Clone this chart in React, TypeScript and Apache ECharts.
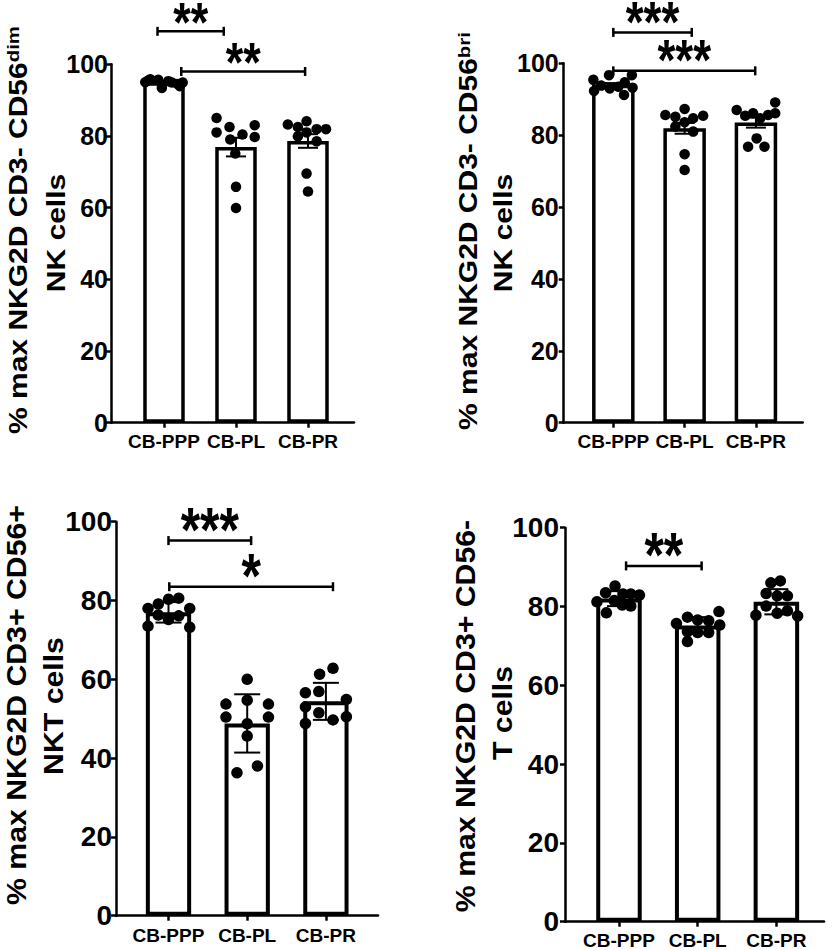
import React, { useEffect, useRef } from 'react';
import * as echarts from 'echarts';

const FONT = '"Liberation Sans", Arial, Helvetica, sans-serif';

// ---------- data ----------
const categories = ['CB-PPP', 'CB-PL', 'CB-PR'];
const categoryIndex = [0, 1, 2];
const yMin = 0;
const yMax = 100;
const yStep = 20;

// Panel A: CD3- CD56dim NK cells (mean ± SEM)
const aMeans = [95.0, 76.9, 78.6];
const aErr = [0.3, 2.6, 1.9];
const aPPP = [95.0, 95.5, 95.8, 95.7, 93.4, 95.3, 94.9, 94.5, 93.9, 94.9];
const aPL = [85.0, 82.5, 83.0, 81.0, 80.4, 79.7, 79.0, 75.1, 65.8, 59.9];
const aPR = [83.2, 82.5, 84.1, 81.9, 81.9, 79.9, 81.0, 78.5, 69.5, 64.5];
const aJitPPP = [-0.26, -0.22, -0.19, -0.08, -0.03, 0.06, 0.11, 0.19, 0.22, 0.26];
const aJitPL = [-0.27, -0.09, 0.26, -0.27, 0.09, 0.26, -0.08, -0.01, 0.0, 0.0];
const aJitPR = [-0.28, -0.14, -0.02, 0.12, 0.25, -0.14, -0.02, 0.12, -0.02, 0.0];
const aBrackets = [
  { x1: -0.09, x2: 0.83, y: 109.2, label: '**' },
  { x1: 0.24, x2: 1.96, y: 98.0, label: '**' },
];

// Panel B: CD3- CD56bri NK cells (mean ± SEM)
const bMeans = [94.0, 81.9, 83.5];
const bErr = [0.5, 1.5, 1.4];
const bPPP = [95.4, 96.7, 96.7, 93.8, 93.0, 93.5, 94.7, 93.2, 92.3, 91.2];
const bPL = [85.6, 85.1, 87.3, 84.7, 85.4, 83.6, 82.4, 81.0, 74.7, 70.3];
const bPR = [87.0, 85.4, 86.1, 84.7, 85.6, 89.1, 86.1, 79.1, 76.8, 76.8];
const bJitPPP = [-0.28, -0.06, 0.26, -0.17, -0.05, 0.07, 0.16, 0.27, -0.27, 0.15];
const bJitPL = [-0.27, -0.13, 0.0, 0.12, 0.26, 0.0, -0.13, 0.12, 0.0, 0.0];
const bJitPR = [-0.27, -0.15, -0.04, 0.06, 0.17, 0.27, 0.27, 0.01, -0.11, 0.12];
const bBrackets = [
  { x1: 0.0, x2: 1.1, y: 108.6, label: '***' },
  { x1: 0.0, x2: 1.99, y: 97.9, label: '***' },
];

// Panel C: CD3+ CD56+ NKT cells (mean ± SD)
const cMeans = [77.0, 48.8, 54.4];
const cErr = [2.6, 7.4, 4.7];
const cPPP = [78.0, 79.1, 80.3, 80.6, 78.0, 76.3, 75.2, 76.1, 73.5, 73.2];
const cPL = [60.0, 53.7, 54.7, 53.7, 50.4, 50.4, 48.7, 45.6, 36.3, 38.0];
const cPR = [62.8, 61.3, 56.6, 56.9, 54.9, 53.0, 51.5, 49.7, 50.5, 48.8];
const cJitPPP = [-0.26, -0.13, 0.0, 0.13, 0.27, -0.13, 0.0, 0.13, -0.26, 0.27];
const cJitPL = [0.0, -0.27, 0.0, 0.27, -0.27, 0.27, 0.0, 0.0, -0.13, 0.13];
const cJitPR = [0.09, -0.08, -0.26, -0.09, 0.26, -0.26, -0.09, 0.09, 0.26, -0.26];
const cBrackets = [
  { x1: 0.0, x2: 1.05, y: 95.2, label: '***' },
  { x1: 0.01, x2: 2.09, y: 83.5, label: '*' },
];

// Panel D: CD3+ CD56- T cells (mean ± SD)
const dMeans = [82.0, 75.2, 81.2];
const dErr = [1.9, 2.1, 3.2];
const dPPP = [83.5, 85.2, 83.2, 83.2, 82.9, 81.2, 81.5, 80.4, 80.1, 78.4];
const dPL = [75.7, 77.3, 76.6, 76.4, 78.7, 75.3, 73.6, 73.4, 73.4, 71.1];
const dPR = [86.0, 86.5, 83.3, 82.7, 82.7, 77.8, 80.1, 78.3, 78.9, 77.6];
const dJitPPP = [-0.17, -0.05, 0.05, 0.15, 0.26, -0.28, -0.06, 0.04, 0.15, -0.16];
const dJitPL = [-0.27, -0.13, 0.0, 0.14, 0.27, 0.28, -0.13, 0.0, 0.14, -0.13];
const dJitPR = [-0.07, 0.05, -0.13, 0.01, 0.14, -0.26, -0.13, 0.01, 0.14, 0.27];
const dBrackets = [{ x1: 0.09, x2: 1.05, y: 90.3, label: '**' }];

// ---------- layout ----------
type PanelCfg = {
  means: number[];
  err: number[];
  groups: number[][];
  jitters: number[][];
  brackets: { x1: number; x2: number; y: number; label: string }[];
  grid: { left: number; top: number; width: number; height: number };
  xMin: number;
  xMax: number;
  barWidth: number;
  border: number;
  dot: number;
  cap: number;
  tickFont: number;
  tickMargin: number;
  starFont: number;
  starShift: number;
  labelMargin: number;
  title1: string;
  title2: string;
  titleFont: number;
  titleScale: number;
  t1x: number;
  t1y: number;
  t2x: number;
  t2y: number;
};

const panels: PanelCfg[] = [
  {
    means: aMeans, err: aErr, groups: [aPPP, aPL, aPR], jitters: [aJitPPP, aJitPL, aJitPR], brackets: aBrackets,
    grid: { left: 111, top: 64.3, width: 243, height: 358.4 }, xMin: -0.736, xMax: 2.639,
    barWidth: 41.5, border: 3.5, dot: 10.5, cap: 20, tickFont: 25, tickMargin: 3, starFont: 45, starShift: 10, labelMargin: 9,
    title1: '{m|% max NKG2D CD3- CD56}{s|dim}', title2: 'NK cells', titleFont: 25, titleScale: 1.2,
    t1x: 18, t1y: 230, t2x: 56, t2y: 233,
  },
  {
    means: bMeans, err: bErr, groups: [bPPP, bPL, bPR], jitters: [bJitPPP, bJitPL, bJitPR], brackets: bBrackets,
    grid: { left: 563.7, top: 63.3, width: 239, height: 359.4 }, xMin: -0.696, xMax: 2.656,
    barWidth: 42.5, border: 3.5, dot: 10.5, cap: 20, tickFont: 25, tickMargin: 5, starFont: 46, starShift: 10.3, labelMargin: 9,
    title1: '{m|% max NKG2D CD3- CD56}{s|bri}', title2: 'NK cells', titleFont: 25, titleScale: 1.2,
    t1x: 468.8, t1y: 231, t2x: 503.8, t2y: 233,
  },
  {
    means: cMeans, err: cErr, groups: [cPPP, cPL, cPR], jitters: [cJitPPP, cJitPL, cJitPR], brackets: cBrackets,
    grid: { left: 116, top: 521.7, width: 262, height: 394 }, xMin: -0.667, xMax: 2.662,
    barWidth: 45.3, border: 4, dot: 11.5, cap: 26, tickFont: 28, tickMargin: 4, starFont: 50, starShift: 11.5, labelMargin: 10,
    title1: '{m|% max NKG2D CD3+ CD56+}', title2: 'NKT cells', titleFont: 27, titleScale: 1.12,
    t1x: 16.7, t1y: 705, t2x: 53.3, t2y: 706,
  },
  {
    means: dMeans, err: dErr, groups: [dPPP, dPL, dPR], jitters: [dJitPPP, dJitPL, dJitPR], brackets: dBrackets,
    grid: { left: 565, top: 527.7, width: 259, height: 394 }, xMin: -0.686, xMax: 2.605,
    barWidth: 45.5, border: 4, dot: 11.5, cap: 24, tickFont: 28, tickMargin: 6, starFont: 50, starShift: 11.3, labelMargin: 9,
    title1: '{m|% max NKG2D CD3+ CD56-}', title2: 'T cells', titleFont: 27, titleScale: 1.12,
    t1x: 466, t1y: 716, t2x: 502.7, t2y: 713,
  },
];

function buildOption() {
  const grids: any[] = [];
  const xAxes: any[] = [];
  const yAxes: any[] = [];
  const series: any[] = [];
  const graphics: any[] = [];

  panels.forEach((p, i) => {
    grids.push({ ...p.grid, containLabel: false });
    xAxes.push({
      type: 'value',
      gridIndex: i,
      min: p.xMin,
      max: p.xMax,
      splitLine: { show: false },
      axisLine: { show: true, onZero: false, lineStyle: { color: '#000', width: 2.5 } },
      axisTick: { show: true, customValues: categoryIndex, length: 5, lineStyle: { color: '#000', width: 2.5 } },
      axisLabel: {
        show: true,
        customValues: categoryIndex,
        formatter: (v: number) => categories[Math.round(v)] ?? '',
        color: '#000',
        fontWeight: 'bold',
        fontSize: 19,
        fontFamily: FONT,
        margin: p.labelMargin,
      },
    });
    yAxes.push({
      type: 'value',
      gridIndex: i,
      min: yMin,
      max: yMax,
      interval: yStep,
      splitLine: { show: false },
      axisLine: { show: true, onZero: false, lineStyle: { color: '#000', width: 2.5 } },
      axisTick: { show: true, length: 5, lineStyle: { color: '#000', width: 2.5 } },
      axisLabel: { color: '#000', fontWeight: 'bold', fontSize: p.tickFont, fontFamily: FONT, margin: p.tickMargin },
    });

    series.push({
      type: 'bar',
      xAxisIndex: i,
      yAxisIndex: i,
      barWidth: p.barWidth,
      data: p.means.map((m, k) => [categoryIndex[k], m]),
      itemStyle: { color: '#fff', borderColor: '#000', borderWidth: p.border },
      z: 2,
      silent: true,
    });

    const cap = p.cap;
    series.push({
      type: 'custom',
      xAxisIndex: i,
      yAxisIndex: i,
      z: 3,
      data: p.means.map((m, k) => [categoryIndex[k], m - p.err[k], m + p.err[k]]),
      encode: { x: 0, y: [1, 2] },
      renderItem: (_params: any, api: any) => {
        const x = api.value(0);
        const lo = api.coord([x, api.value(1)]);
        const hi = api.coord([x, api.value(2)]);
        const st = { stroke: '#000', lineWidth: 2 };
        return {
          type: 'group',
          children: [
            { type: 'line', shape: { x1: lo[0], y1: lo[1], x2: hi[0], y2: hi[1] }, style: st },
            { type: 'line', shape: { x1: lo[0] - cap / 2, y1: lo[1], x2: lo[0] + cap / 2, y2: lo[1] }, style: st },
            { type: 'line', shape: { x1: hi[0] - cap / 2, y1: hi[1], x2: hi[0] + cap / 2, y2: hi[1] }, style: st },
          ],
        };
      },
    });

    const dots: number[][] = [];
    p.groups.forEach((vals, k) => {
      vals.forEach((v, j) => dots.push([categoryIndex[k] + p.jitters[k][j], v]));
    });
    series.push({
      type: 'scatter',
      xAxisIndex: i,
      yAxisIndex: i,
      symbol: 'circle',
      symbolSize: p.dot,
      itemStyle: { color: '#000', opacity: 1 },
      data: dots,
      z: 4,
      silent: true,
    });

    const br = p.brackets;
    series.push({
      type: 'custom',
      xAxisIndex: i,
      yAxisIndex: i,
      z: 5,
      clip: false,
      data: br.map((b) => [b.x1, b.x2, b.y]),
      encode: { x: [0, 1], y: 2 },
      renderItem: (params: any, api: any) => {
        const y = api.value(2);
        const p1 = api.coord([api.value(0), y]);
        const p2 = api.coord([api.value(1), y]);
        const st = { stroke: '#000', lineWidth: 2.5 };
        const ch = 4.5;
        return {
          type: 'group',
          children: [
            { type: 'line', shape: { x1: p1[0], y1: p1[1], x2: p2[0], y2: p2[1] }, style: st },
            { type: 'line', shape: { x1: p1[0], y1: p1[1] - ch, x2: p1[0], y2: p1[1] + ch }, style: st },
            { type: 'line', shape: { x1: p2[0], y1: p2[1] - ch, x2: p2[0], y2: p2[1] + ch }, style: st },
            {
              type: 'text',
              x: (p1[0] + p2[0]) / 2,
              y: p1[1] - p.starShift,
              scaleY: 1.25,
              style: {
                text: br[params.dataIndex].label,
                fill: '#000',
                fontSize: p.starFont,
                lineHeight: Math.round(p.starFont * 0.6),
                fontWeight: 'bold',
                fontFamily: FONT,
                align: 'center',
                verticalAlign: 'middle',
              },
            },
          ],
        };
      },
    });

    const titleRich = {
      m: { fontSize: p.titleFont, fontWeight: 'bold', fontFamily: FONT, fill: '#000', lineHeight: p.titleFont + 1 },
      s: { fontSize: 17, fontWeight: 'bold', fontFamily: FONT, fill: '#000', verticalAlign: 'top', lineHeight: 17 },
    };
    graphics.push({
      type: 'text',
      x: p.t1x,
      y: p.t1y,
      rotation: Math.PI / 2,
      scaleX: p.titleScale,
      style: {
        text: p.title1,
        rich: titleRich,
        fill: '#000',
        fontSize: p.titleFont,
        fontWeight: 'bold',
        fontFamily: FONT,
        align: 'center',
        verticalAlign: 'middle',
      },
    });
    graphics.push({
      type: 'text',
      x: p.t2x,
      y: p.t2y,
      rotation: Math.PI / 2,
      scaleX: p.titleScale,
      style: {
        text: p.title2,
        fill: '#000',
        fontSize: p.titleFont,
        fontWeight: 'bold',
        fontFamily: FONT,
        align: 'center',
        verticalAlign: 'middle',
      },
    });
  });

  return {
    animation: false,
    backgroundColor: '#fff',
    grid: grids,
    xAxis: xAxes,
    yAxis: yAxes,
    series,
    graphic: graphics,
  };
}

export default function App() {
  const ref = useRef<HTMLDivElement>(null);
  useEffect(() => {
    if (!ref.current) return;
    const chart = echarts.init(ref.current, undefined, { renderer: 'svg' });
    chart.setOption(buildOption() as any);
    return () => chart.dispose();
  }, []);
  return (
    <div
      ref={ref}
      style={{ position: 'absolute', left: 0, top: 0, width: 832, height: 950, background: '#fff' }}
    />
  );
}
